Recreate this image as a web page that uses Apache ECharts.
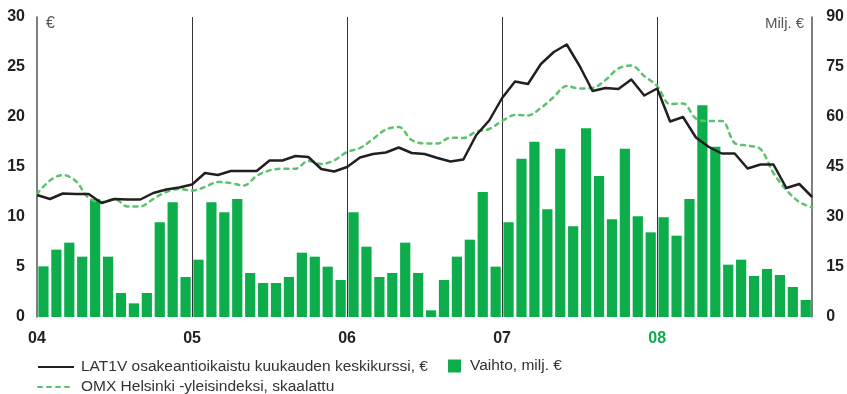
<!DOCTYPE html>
<html>
<head>
<meta charset="utf-8">
<script src="https://cdn.jsdelivr.net/npm/echarts@6/dist/echarts.min.js"></script>
<style>
  html, body { margin: 0; padding: 0; background: #fff; }
  #chart { width: 847px; height: 394px; }
</style>
</head>
<body>
<div id="chart"></div>
<script>
// Years shown on the time axis
const years = ['04', '05', '06', '07', '08'];
const highlightYear = '08';

// Monthly turnover, million € (one bar per month, 2004–2008)
const turnover = [
  15.2, 20.2, 22.3, 18.1, 35.4, 18.1, 7.2, 4.1, 7.2, 28.4, 34.4, 12.0,
  17.2, 34.4, 31.4, 35.4, 13.2, 10.2, 10.2, 12.0, 19.3, 18.1, 15.1, 11.1,
  31.4, 21.1, 12.0, 13.2, 22.3, 13.2, 2.0, 11.1, 18.1, 23.2, 37.5, 15.1,
  28.4, 47.5, 52.6, 32.3, 50.5, 27.2, 56.6, 42.3, 29.3, 50.5, 30.2, 25.4,
  29.9, 24.4, 35.4, 63.5, 51.1, 15.7, 17.2, 12.3, 14.4, 12.6, 9.0, 5.1
];

// Share-issue-adjusted monthly average price, €
const avgPrice = [
  12.2, 11.8, 12.35, 12.3, 12.3, 11.4, 11.8, 11.75, 11.75, 12.4, 12.75, 12.95,
  13.25, 14.4, 14.2, 14.6, 14.6, 14.6, 15.65, 15.65, 16.1, 16.0, 14.8, 14.55,
  15.0, 15.95, 16.3, 16.45, 16.95, 16.4, 16.3, 15.9, 15.55, 15.75, 18.2, 19.65,
  21.9, 23.55, 23.3, 25.3, 26.5, 27.25, 25.1, 22.6, 22.9, 22.8, 23.75, 22.15,
  22.85, 19.55, 20.0, 17.95, 17.0, 16.35, 16.35, 14.85, 15.25, 15.25, 12.9, 13.3,
  12.0
];

// OMX Helsinki all-share index, scaled to the price axis
const omxScaled = [
  12.3, 13.65, 14.2, 13.6, 11.9, 11.5, 11.8, 11.06, 11.06, 11.8, 12.5, 12.8,
  12.64, 13.0, 13.5, 13.4, 13.15, 14.1, 14.66, 14.83, 14.83, 15.6, 15.3, 15.67,
  16.5, 16.9, 17.8, 18.75, 19.0, 17.7, 17.36, 17.36, 17.94, 17.9, 18.55, 18.8,
  19.6, 20.2, 20.16, 20.9, 22.0, 23.1, 22.85, 22.9, 23.7, 24.85, 25.15, 24.1,
  23.1, 21.3, 21.35, 19.85, 19.6, 19.6, 17.4, 17.13, 16.8, 14.4, 12.7, 11.5,
  10.95
];

const seriesNames = {
  price: 'LAT1V osakeantioikaistu kuukauden keskikurssi, €',
  turnover: 'Vaihto, milj. €',
  omx: 'OMX Helsinki -yleisindeksi, skaalattu'
};

// Month categories for the bars, and month-boundary points for the lines
const months = [];
years.forEach(y => { for (let m = 1; m <= 12; m++) months.push(y + '/' + m); });
const boundaries = months.concat(['09/1']);

const GREEN = '#0dad4b';
const DASH_GREEN = '#5cc26c';
const INK = '#231f20';
const FONT = 'Liberation Sans, Arial, sans-serif';

const legendText = { fontFamily: FONT, fontSize: 15.5, color: '#333' };

const chart = echarts.init(document.getElementById('chart'), null, { renderer: 'canvas' });

chart.setOption({
  animation: false,
  backgroundColor: '#fff',
  grid: { left: 37, right: 31, top: 17, bottom: 77, containLabel: false },
  xAxis: [
    {
      type: 'category',
      data: months,
      boundaryGap: true,
      axisLine: { show: false },
      axisTick: { show: false },
      axisLabel: { show: false },
      splitLine: { show: false }
    },
    {
      type: 'category',
      data: boundaries,
      boundaryGap: false,
      position: 'bottom',
      axisLine: { show: false },
      axisTick: { show: false },
      axisLabel: {
        interval: (i) => i % 12 === 0 && i < 60,
        margin: 14,
        fontFamily: FONT,
        fontWeight: 'bold',
        fontSize: 16,
        color: INK,
        formatter: (v) => {
          const y = v.split('/')[0];
          return y === highlightYear ? '{hl|' + y + '}' : y;
        },
        rich: {
          hl: { color: GREEN, fontFamily: FONT, fontWeight: 'bold', fontSize: 16 }
        }
      },
      splitLine: {
        show: true,
        interval: (i) => i % 12 === 0 && i > 0 && i < 60,
        lineStyle: { color: '#333', width: 1 }
      }
    }
  ],
  yAxis: [
    {
      type: 'value',
      position: 'left',
      min: 0, max: 30, interval: 5,
      name: '€',
      nameLocation: 'end',
      nameGap: 1,
      nameTextStyle: {
        fontFamily: FONT, fontSize: 16, color: '#555',
        align: 'left', verticalAlign: 'top', padding: [0, 0, 0, 9]
      },
      axisLine: { show: true, lineStyle: { color: '#555', width: 1.5 } },
      axisTick: { show: false },
      splitLine: { show: false },
      axisLabel: {
        margin: 12, fontFamily: FONT, fontWeight: 'bold', fontSize: 16, color: INK
      }
    },
    {
      type: 'value',
      position: 'right',
      min: 0, max: 90, interval: 15,
      name: 'Milj. €',
      nameLocation: 'end',
      nameGap: 1,
      nameTextStyle: {
        fontFamily: FONT, fontSize: 15, color: '#555',
        align: 'right', verticalAlign: 'top', padding: [0, 8, 0, 0]
      },
      axisLine: { show: true, lineStyle: { color: '#555', width: 1.5 } },
      axisTick: { show: false },
      splitLine: { show: false },
      axisLabel: {
        margin: 14, fontFamily: FONT, fontWeight: 'bold', fontSize: 16, color: INK
      }
    }
  ],
  legend: [
    {
      data: [seriesNames.price],
      left: 37, top: 359, padding: 0,
      itemWidth: 36, itemHeight: 14,
      itemStyle: { opacity: 0, borderWidth: 0 },
      textStyle: Object.assign({ padding: [0, 0, 0, 2] }, legendText)
    },
    {
      data: [{ name: seriesNames.turnover, icon: 'rect' }],
      left: 448, top: 358, padding: 0,
      itemWidth: 13, itemHeight: 13,
      textStyle: Object.assign({ padding: [0, 0, 0, 4] }, legendText)
    },
    {
      data: [seriesNames.omx],
      left: 37, top: 379, padding: 0,
      itemWidth: 36, itemHeight: 14,
      itemStyle: { opacity: 0, borderWidth: 0 },
      textStyle: Object.assign({ padding: [0, 0, 0, 2] }, legendText)
    }
  ],
  series: [
    {
      name: seriesNames.turnover,
      type: 'bar',
      xAxisIndex: 0,
      yAxisIndex: 1,
      data: turnover,
      barCategoryGap: '21%',
      itemStyle: { color: GREEN },
      z: 1
    },
    {
      name: seriesNames.omx,
      type: 'line',
      xAxisIndex: 1,
      yAxisIndex: 0,
      data: omxScaled,
      smooth: 0.35,
      symbol: 'none',
      lineStyle: { color: DASH_GREEN, width: 2.5, type: [4, 5], cap: 'round' },
      itemStyle: { color: DASH_GREEN },
      z: 3
    },
    {
      name: seriesNames.price,
      type: 'line',
      xAxisIndex: 1,
      yAxisIndex: 0,
      data: avgPrice,
      symbol: 'none',
      lineStyle: { color: INK, width: 2.5, join: 'round' },
      itemStyle: { color: INK },
      z: 4
    }
  ]
});
</script>
</body>
</html>
